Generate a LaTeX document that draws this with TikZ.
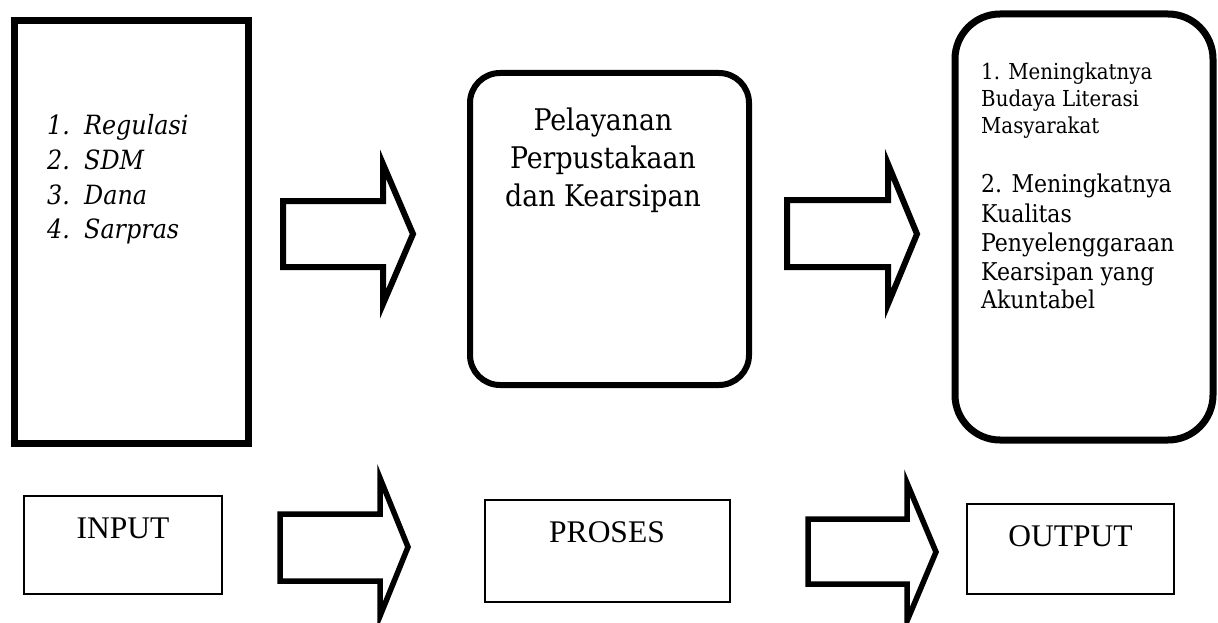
\documentclass[tikz,border=0pt]{standalone}
\usepackage{fontspec}
\setmainfont{DejaVu Serif Condensed}[ItalicFont={DejaVu Serif Condensed Italic}]
\newfontfamily\timesf{Liberation Serif}
\begin{document}
\begin{tikzpicture}[x=1pt,y=-1pt,
  bigbox/.style={draw, line width=7pt, inner sep=0pt, anchor=north west},
  roundbox/.style={draw, rounded corners=#1, inner sep=0pt, anchor=north west},
  labelbox/.style={draw, line width=1.3pt, inner sep=0pt},
  blockarrow/.style={draw, line width=#1, line join=miter, fill=white},
  txt/.style={inner sep=0pt, anchor=base west},
  ctxt/.style={inner sep=0pt, anchor=base},
  listfont/.style={font=\fontsize{26.5}{31}\selectfont\itshape},
  midfont/.style={font=\fontsize{29.8}{34}\selectfont},
  outAfont/.style={font=\fontsize{22}{26}\selectfont},
  outBfont/.style={font=\fontsize{24.5}{28}\selectfont},
  lblfont/.style={font=\fontsize{31.5}{36}\selectfont\timesf}
]
\useasboundingbox (0,0) rectangle (1218,623);

% main boxes
\node[bigbox, minimum width=234pt, minimum height=422pt] (inbox) at (10.5,17.5) {};
\node[roundbox=30pt, line width=6pt, minimum width=279pt, minimum height=312pt] (procbox) at (467,70) {};
\node[roundbox=45pt, line width=7pt, minimum width=258pt, minimum height=426pt] (outbox) at (951.5,10.5) {};

% list in input box
\node[txt, listfont] (l1) at (47,135) {\makebox[37pt][l]{1.}Regulasi};
\node[txt, listfont] (l2) at (47,169.5) {\makebox[37pt][l]{2.}SDM};
\node[txt, listfont] (l3) at (47,204) {\makebox[37pt][l]{3.}Dana};
\node[txt, listfont] (l4) at (47,238.5) {\makebox[37pt][l]{4.}Sarpras};

% process text
\node[ctxt, midfont] (p1) at (603,131) {Pelayanan};
\node[ctxt, midfont] (p2) at (603,168.5) {Perpustakaan};
\node[ctxt, midfont] (p3) at (603,206) {dan Kearsipan};

% output text
\node[txt, outAfont] (o1) at (981,80) {1. Meningkatnya};
\node[txt, outAfont] (o2) at (981,106.7) {Budaya Literasi};
\node[txt, outAfont] (o3) at (981,133.3) {Masyarakat};
\node[txt, outBfont] (o4) at (981,193) {2. Meningkatnya};
\node[txt, outBfont] (o5) at (981,222) {Kualitas};
\node[txt, outBfont] (o6) at (981,251) {Penyelenggaraan};
\node[txt, outBfont] (o7) at (981,280) {Kearsipan yang};
\node[txt, outBfont] (o8) at (981,308.5) {Akuntabel};

% top block arrows
\draw[blockarrow=6pt] (283,201) -- (383,201) -- (383,164) -- (413,234) -- (383,304) -- (383,267) -- (283,267) -- cycle;
\draw[blockarrow=6pt] (787,200) -- (888,200) -- (888,164) -- (917,234) -- (888,304) -- (888,267) -- (787,267) -- cycle;

% bottom label boxes
\node[labelbox, minimum width=198pt, minimum height=98pt] (inlbl) at (123,545) {};
\node[labelbox, minimum width=245pt, minimum height=102pt] (proclbl) at (607.5,551) {};
\node[labelbox, minimum width=207pt, minimum height=90pt] (outlbl) at (1070.5,549) {};
\node[ctxt, lblfont] (tin) at (123,538) {INPUT};
\node[ctxt, lblfont] (tproc) at (607,542) {PROSES};
\node[ctxt, lblfont] (tout) at (1070.5,546) {OUTPUT};

% bottom block arrows
\draw[blockarrow=5.5pt] (280,514) -- (380,514) -- (380,478) -- (408,547) -- (380,616) -- (380,581) -- (280,581) -- cycle;
\draw[blockarrow=5.5pt] (808,519) -- (907,519) -- (907,483) -- (936,552) -- (907,621) -- (907,584) -- (808,584) -- cycle;
\end{tikzpicture}
\end{document}
